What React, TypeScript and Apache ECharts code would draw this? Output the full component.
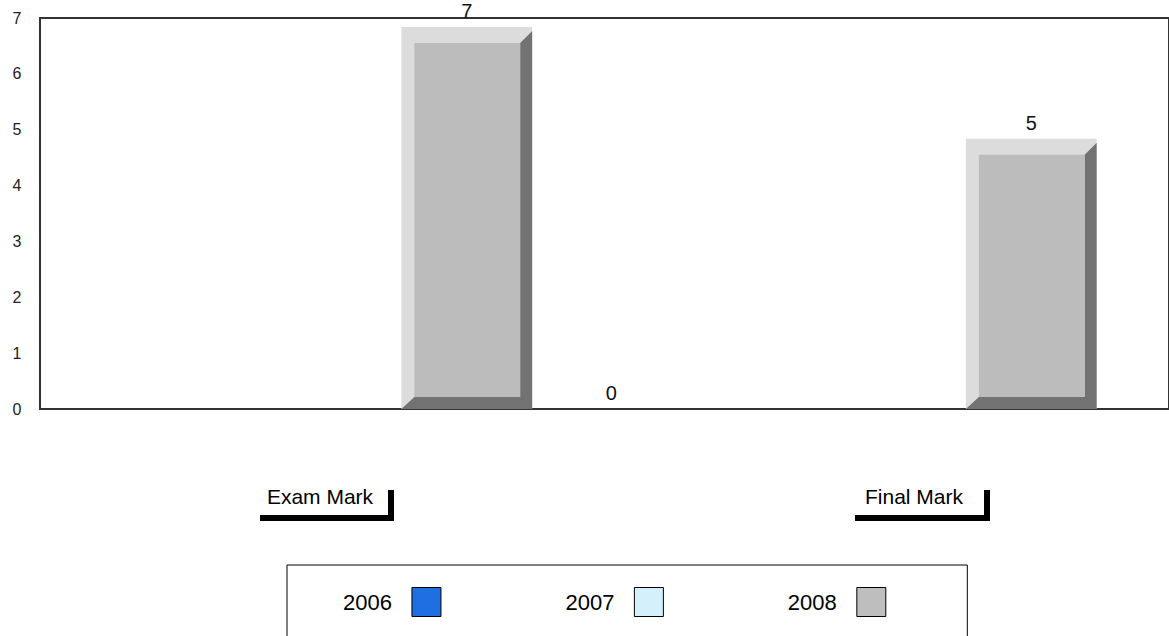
import React, { useEffect, useRef } from 'react';
import * as echarts from 'echarts';

// ---- data ----
const categories = ['Exam Mark', 'Final Mark'];
const seriesNames = ['2006', '2007', '2008'];
const values2006: (number | null)[] = [null, null];
const values2007: (number | null)[] = [0, null];
const values2008: (number | null)[] = [7, 5];
const yMin = 0;
const yMax = 7;
const yInterval = 1;

// ---- styling / layout ----
const seriesColors = ['#1f6fe0', '#d4f0fb', '#bebebe'];
const seriesSlots = [-1, 2, 1];
const SLOT_FRAC = 0.256;
const BAR_FRAC = 0.2317;
const DEPTH = 9;
const FONT = '"Liberation Sans", Arial, Helvetica, sans-serif';
const labelCenters = [320, 914];
const bracketSpans = [
  [260, 394],
  [855, 990],
];

const makeRender = (slot: number) => (params: any, api: any) => {
  const c = api.value(0);
  const v = api.value(1);
  const base = api.coord([c, 0]);
  const topC = api.coord([c, v]);
  const band = api.size([1, 0])[0];
  const cx = base[0] + slot * band * SLOT_FRAC;
  const w = band * BAR_FRAC;
  const x0 = cx - w / 2;
  const x1 = cx + w / 2;
  const y1 = base[1];
  const y0 = v > 0 ? topC[1] + DEPTH : y1;
  const children: any[] = [];
  if (v > 0) {
    children.push({
      type: 'rect',
      shape: { x: x0, y: y0, width: w, height: y1 - y0 },
      style: { fill: '#dcdcdc' },
    });
    children.push({
      type: 'polygon',
      shape: {
        points: [
          [x1, y0 + 4],
          [x1, y1],
          [x0, y1],
          [x0 + 13, y1 - 12],
          [x1 - 12, y1 - 12],
          [x1 - 12, y0 + 16],
        ],
      },
      style: { fill: '#727272' },
    });
    children.push({
      type: 'rect',
      shape: { x: x0 + 13, y: y0 + 16, width: w - 25, height: y1 - 12 - (y0 + 16) },
      style: { fill: '#bcbcbc' },
    });
  }
  children.push({
    type: 'text',
    style: {
      text: String(v),
      x: cx,
      y: y0 - 6,
      align: 'center',
      verticalAlign: 'bottom',
      font: `20px ${FONT}`,
      fill: '#111',
    },
  });
  return { type: 'group', children };
};

export default function App() {
  const ref = useRef<HTMLDivElement>(null);
  useEffect(() => {
    document.body.style.margin = '0';
    if (!ref.current) return;
    const chart = echarts.init(ref.current, null, { renderer: 'svg' });
    const seriesValues = [values2006, values2007, values2008];
    const graphic: any[] = [];
    categories.forEach((name, i) => {
      const [l, r] = bracketSpans[i];
      graphic.push({
        type: 'text',
        style: {
          text: name,
          x: labelCenters[i],
          y: 496,
          align: 'center',
          verticalAlign: 'middle',
          font: `21px ${FONT}`,
          fill: '#000',
        },
      });
      graphic.push({
        type: 'rect',
        shape: { x: l, y: 515, width: r - l, height: 6 },
        style: { fill: '#000' },
      });
      graphic.push({
        type: 'rect',
        shape: { x: r - 6, y: 490, width: 6, height: 31 },
        style: { fill: '#000' },
      });
    });
    chart.setOption({
      animation: false,
      color: seriesColors,
      grid: {
        left: 40,
        right: -2,
        top: 18,
        bottom: 227,
        show: true,
        borderColor: '#333',
        borderWidth: 2,
        backgroundColor: 'transparent',
      },
      xAxis: {
        type: 'category',
        data: categories,
        axisLine: { show: false },
        axisTick: { show: false },
        axisLabel: { show: false },
        splitLine: { show: false },
      },
      yAxis: {
        type: 'value',
        min: yMin,
        max: yMax,
        interval: yInterval,
        axisLine: { show: false },
        axisTick: { show: false },
        splitLine: { show: false },
        axisLabel: {
          align: 'center',
          margin: 23,
          fontSize: 16,
          fontFamily: FONT,
          color: '#222',
        },
      },
      legend: {
        data: seriesNames,
        left: 287,
        top: 565,
        orient: 'horizontal',
        align: 'right',
        icon: 'rect',
        itemWidth: 29,
        itemHeight: 29,
        itemGap: 124,
        padding: [22, 81, 40, 56],
        borderColor: '#000',
        borderWidth: 1,
        itemStyle: { borderColor: '#000', borderWidth: 1 },
        textStyle: {
          fontSize: 22,
          fontFamily: FONT,
          color: '#000',
          padding: [0, 15, 0, 0],
        },
        selectedMode: false,
      },
      graphic,
      series: seriesNames.map((name, si) => ({
        type: 'custom',
        name,
        itemStyle: { color: seriesColors[si] },
        renderItem: makeRender(seriesSlots[si]),
        clip: false,
        encode: { x: 0, y: 1 },
        data: seriesValues[si]
          .map((v, i) => (v == null ? null : [i, v]))
          .filter((d) => d !== null),
      })),
    });
    return () => chart.dispose();
  }, []);
  return <div ref={ref} style={{ width: 1169, height: 636 }} />;
}
